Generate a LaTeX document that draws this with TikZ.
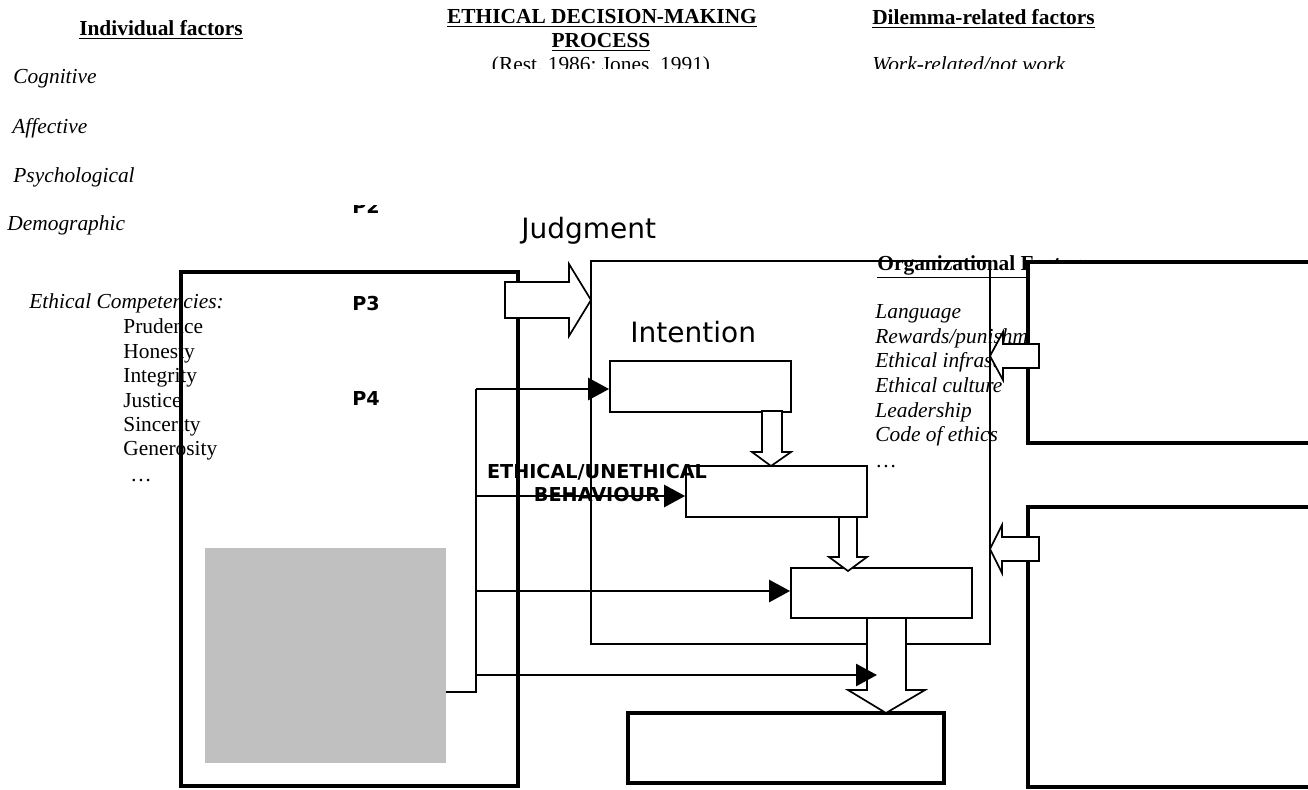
\documentclass[tikz,border=0pt]{standalone}
\usepackage{fontspec}
\setmainfont{Liberation Serif}
\newfontfamily\vsans{DejaVu Sans}
\usetikzlibrary{arrows.meta,positioning}
\definecolor{boxgray}{RGB}{192,192,192}
\newcommand\txt{\fontsize{10.7}{12.8}\selectfont}

\begin{document}
\begin{tikzpicture}[
  x=0.5pt, y=-0.5pt,
  lbl/.style={anchor=base west, inner sep=0pt, font=\txt},
  ital/.style={lbl, font=\txt\itshape},
  head/.style={anchor=base, inner sep=0pt, font=\txt\bfseries},
  big/.style={anchor=base west, inner sep=0pt, font=\vsans\fontsize{14}{16}\selectfont},
  prop/.style={anchor=base west, inner sep=0pt, font=\vsans\bfseries\fontsize{9.6}{11}\selectfont},
  frame/.style={draw, inner sep=0pt},
  stage/.style={frame, fill=white, line width=0.9pt, minimum width=90.5pt, minimum height=25.5pt},
  hollow/.style={draw, fill=white, line width=0.85pt, line join=miter},
  link/.style={line width=1.4pt},
  arr/.style={link, -{Triangle[length=10.5pt, width=11pt]}}
]
\clip (0,0) rectangle (1308,789);

% headings
\node[head] (indiv) at (161,35) {\underline{Individual factors}};
\node[head] (edm1) at (602,23) {\underline{ETHICAL DECISION-MAKING}};
\node[head] (edm2) at (601,47) {\underline{PROCESS}};
\node[head] (dilem) at (983.5,24) {\underline{Dilemma-related factors}};
\begin{scope}
  \clip (440,50) rectangle (1120,68);
  \node[lbl, anchor=base] (rest) at (601,71) {(Rest, 1986; Jones, 1991)};
  \node[ital] (work) at (872,71) {Work-related/not work};
\end{scope}

% individual factors
\node[ital] (cogn) at (13,83) {Cognitive};
\node[ital] (affe) at (12,133) {Affective};
\node[ital] (psyc) at (13,182) {Psychological};
\node[ital] (demo) at (7,230) {Demographic};
\node[ital] (comp) at (29,308) {Ethical Competencies:};
\node[lbl] (prud) at (123,333) {Prudence};
\node[lbl] (hone) at (123,358) {Honesty};
\node[lbl] (inte) at (123,382) {Integrity};
\node[lbl] (just) at (123,407) {Justice};
\node[lbl] (sinc) at (123,431) {Sincerity};
\node[lbl] (gene) at (123,455) {Generosity};
\node[lbl] (cdots) at (130,481) {\dots};

% organizational factors
\node[head, anchor=base west] (orgh) at (877,270) {\underline{Organizational Factors}};
\node[ital] (lang) at (875,318) {Language};
\node[ital] (rewa) at (875,343) {Rewards/punishments};
\node[ital] (infr) at (875,367) {Ethical infrastructure};
\node[ital] (cult) at (875,392) {Ethical culture};
\node[ital] (lead) at (875,417) {Leadership};
\node[ital] (code) at (875,441) {Code of ethics};
\node[lbl] (odots) at (875,467) {\dots};

% boxes
\node[frame, line width=1.75pt, minimum width=168.5pt, minimum height=257pt] (indbox) at (349.5,529) {};
\node[inner sep=0pt, fill=boxgray, minimum width=120.5pt, minimum height=107.5pt] (greybox) at (325.5,655.5) {};
\node[frame, line width=1.35pt, minimum width=199.5pt, minimum height=191.5pt] (edmbox) at (790.5,452.5) {};
\node[stage] (stageA) at (700.5,386.5) {};
\node[stage] (stageB) at (776.5,491.5) {};
\node[stage, minimum height=25pt] (stageC) at (881.5,593) {};
\node[frame, line width=2pt, minimum width=158pt, minimum height=35pt] (outcome) at (786,748) {};
\node[frame, fill=white, line width=2pt, minimum width=151pt, minimum height=90.5pt] (orgbox) at (1179,352.5) {};
\node[frame, fill=white, line width=2pt, minimum width=151pt, minimum height=140pt] (dilbox) at (1179,647) {};

% block arrows
\draw[hollow] (505,282) -- (569,282) -- (569,264) -- (591,300) -- (569,336) -- (569,318) -- (505,318) -- cycle;
\draw[hollow] (762,411) -- (782,411) -- (782,452) -- (791,452) -- (771,466) -- (752,452) -- (762,452) -- cycle;
\draw[hollow] (839,517) -- (857,517) -- (857,557) -- (867,557) -- (848,571) -- (829,557) -- (839,557) -- cycle;
\draw[hollow] (867,618) -- (906,618) -- (906,690) -- (925,690) -- (886,713) -- (848,690) -- (867,690) -- cycle;
\draw[hollow] (1039,344) -- (1003,344) -- (1003,332) -- (990,356) -- (1003,380) -- (1003,368) -- (1039,368) -- cycle;
\draw[hollow] (1039,537) -- (1002,537) -- (1002,525) -- (990,549) -- (1002,573) -- (1002,561) -- (1039,561) -- cycle;

% connectors
\coordinate (t1) at (476,389);
\coordinate (t2) at (476,496);
\coordinate (t3) at (476,591);
\coordinate (t4) at (476,675);
\coordinate (t5) at (476,692);
\coordinate (a4end) at (877,675);
\draw[link] (greybox.east |- t5) -- (t5) -- (t1);
\draw[arr] (t1) -- (t1 -| stageA.west);
\draw[arr] (t2) -- (t2 -| stageB.west);
\draw[arr] (t3) -- (t3 -| stageC.west);
\draw[arr] (t4) -- (a4end);

% labels
\node[big] (judglbl) at (521,238) {Judgment};
\node[big] (intlbl) at (630,342) {Intention};
\begin{scope}
  \clip (340,205) rectangle (400,225);
  \node[prop] (p2) at (352,213) {P2};
\end{scope}
\node[prop] (p3) at (352,310) {P3};
\node[prop] (p4) at (352,405) {P4};
\node[prop, anchor=base] (behav1) at (597,478) {ETHICAL/UNETHICAL};
\node[prop, anchor=base] (behav2) at (597,501) {BEHAVIOUR};
\end{tikzpicture}
\end{document}
